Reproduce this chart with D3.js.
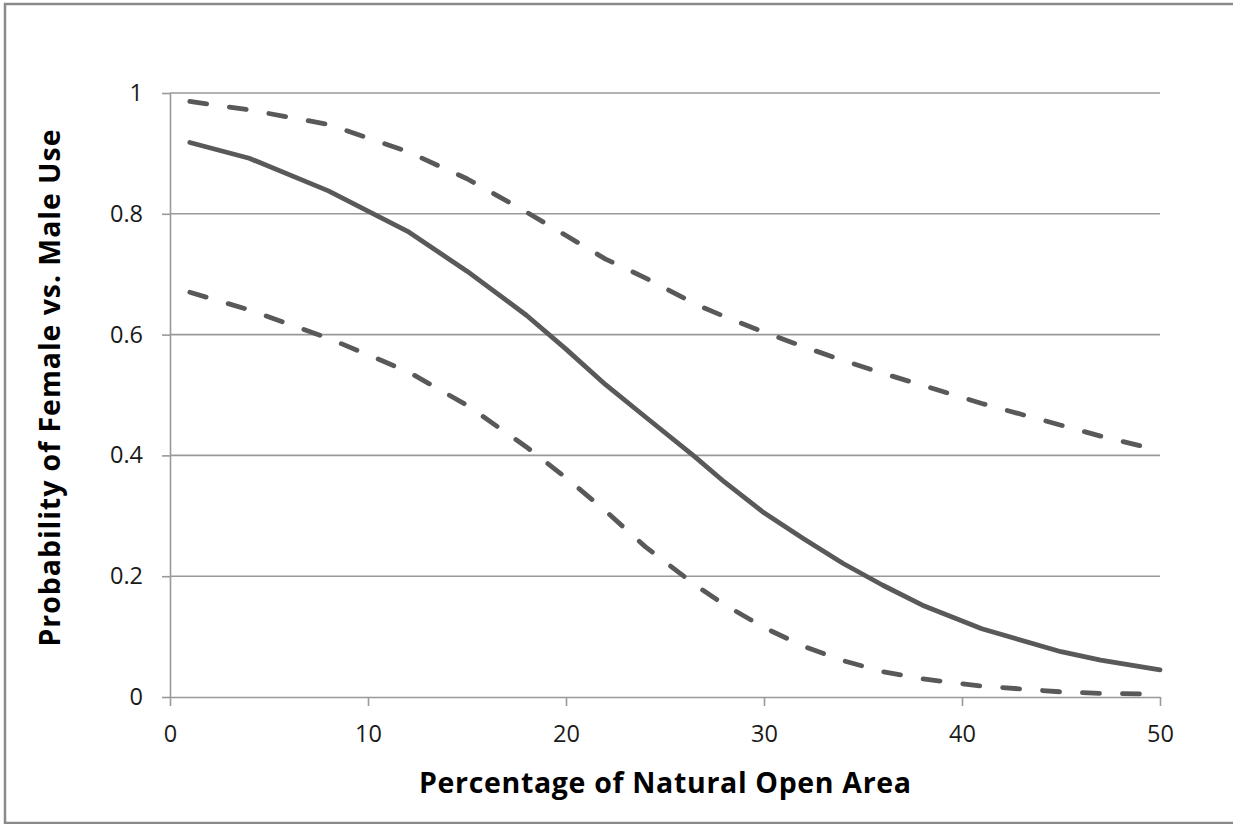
<!DOCTYPE html>
<html>
<head>
<meta charset="utf-8">
<script src="https://cdn.jsdelivr.net/npm/d3@7"></script>
<style>
  html, body { margin: 0; padding: 0; background: #ffffff; }
  svg { display: block; }
</style>
</head>
<body>
<svg id="chart" width="1233" height="824"></svg>
<script>
// ---- data ----
const xValues = [1, 4, 8, 12, 15, 18, 20, 22, 24, 26.5, 28, 30, 32, 34, 36, 38, 41, 45, 47, 50];
const estimate = [0.918, 0.892, 0.838, 0.771, 0.705, 0.632, 0.576, 0.517, 0.464, 0.398, 0.356, 0.305, 0.262, 0.221, 0.185, 0.152, 0.113, 0.075, 0.061, 0.045];
const upperBound = [0.986, 0.972, 0.948, 0.903, 0.858, 0.803, 0.764, 0.725, 0.694, 0.651, 0.630, 0.604, 0.580, 0.557, 0.536, 0.516, 0.486, 0.450, 0.432, 0.408];
const lowerBound = [0.670, 0.641, 0.594, 0.539, 0.483, 0.414, 0.363, 0.308, 0.249, 0.186, 0.153, 0.115, 0.084, 0.060, 0.042, 0.030, 0.018, 0.0085, 0.006, 0.0045];
const xTicks = [0, 10, 20, 30, 40, 50];
const yTicks = [0, 0.2, 0.4, 0.6, 0.8, 1];
const xTitle = "Percentage of Natural Open Area";
const yTitle = "Probability of Female vs. Male Use";

// ---- layout ----
const svg = d3.select("#chart");
const W = 1233, H = 824;
const plot = { left: 170, right: 1160, top: 93, bottom: 697 };
const font = "'Open Sans', Lato, sans-serif";
const lineColor = "#595959";
const gridColor = "#999999";

svg.append("rect").attr("width", W).attr("height", H).attr("fill", "#fff");
// outer chart frame
svg.append("rect")
  .attr("x", 5).attr("y", 4).attr("width", 1240).attr("height", 819)
  .attr("fill", "none").attr("stroke", "#8a8a8a").attr("stroke-width", 2.5);

const x = d3.scaleLinear().domain([0, 50]).range([plot.left, plot.right]);
const y = d3.scaleLinear().domain([0, 1]).range([plot.bottom, plot.top]);

// gridlines
svg.append("g").selectAll("line")
  .data(yTicks.filter(d => d > 0))
  .join("line")
  .attr("x1", plot.left).attr("x2", plot.right)
  .attr("y1", d => y(d)).attr("y2", d => y(d))
  .attr("stroke", gridColor).attr("stroke-width", 1.6);

// y axis
const yAxis = svg.append("g")
  .attr("transform", `translate(${plot.left},0)`)
  .call(d3.axisLeft(y).tickValues(yTicks).tickSize(8).tickSizeOuter(0).tickPadding(19)
    .tickFormat(d => String(+d.toFixed(1))));
// x axis
const xAxis = svg.append("g")
  .attr("transform", `translate(0,${plot.bottom})`)
  .call(d3.axisBottom(x).tickValues(xTicks).tickSize(9).tickSizeOuter(0).tickPadding(19));

[yAxis, xAxis].forEach(g => {
  g.select(".domain").attr("stroke", gridColor).attr("stroke-width", 1.6);
  g.selectAll(".tick line").attr("stroke", gridColor).attr("stroke-width", 1.6);
  g.selectAll(".tick text")
    .attr("fill", "#1a1a1a")
    .style("font-family", font)
    .style("font-size", "23.5px");
});

// series
const pts = arr => xValues.map((xv, i) => [xv, arr[i]]);
const line = d3.line().x(d => x(d[0])).y(d => y(d[1]));

const series = [
  { data: upperBound, dash: "17,23" },
  { data: lowerBound, dash: "17,23" },
  { data: estimate, dash: null }
];
svg.append("g").selectAll("path")
  .data(series)
  .join("path")
  .attr("d", s => line(pts(s.data)))
  .attr("fill", "none")
  .attr("stroke", lineColor)
  .attr("stroke-width", 4.8)
  .attr("stroke-linecap", "round")
  .attr("stroke-linejoin", "round")
  .attr("stroke-dasharray", s => s.dash);

// axis titles
svg.append("text")
  .attr("x", (plot.left + plot.right) / 2)
  .attr("y", 793)
  .attr("text-anchor", "middle")
  .attr("textLength", 492)
  .attr("lengthAdjust", "spacing")
  .style("font-family", font)
  .style("font-weight", "bold")
  .style("font-size", "28.5px")
  .attr("fill", "#000")
  .text(xTitle);

svg.append("text")
  .attr("transform", `translate(60,388) rotate(-90)`)
  .attr("text-anchor", "middle")
  .attr("textLength", 517)
  .attr("lengthAdjust", "spacing")
  .style("font-family", font)
  .style("font-weight", "bold")
  .style("font-size", "28.5px")
  .attr("fill", "#000")
  .text(yTitle);
</script>
</body>
</html>
